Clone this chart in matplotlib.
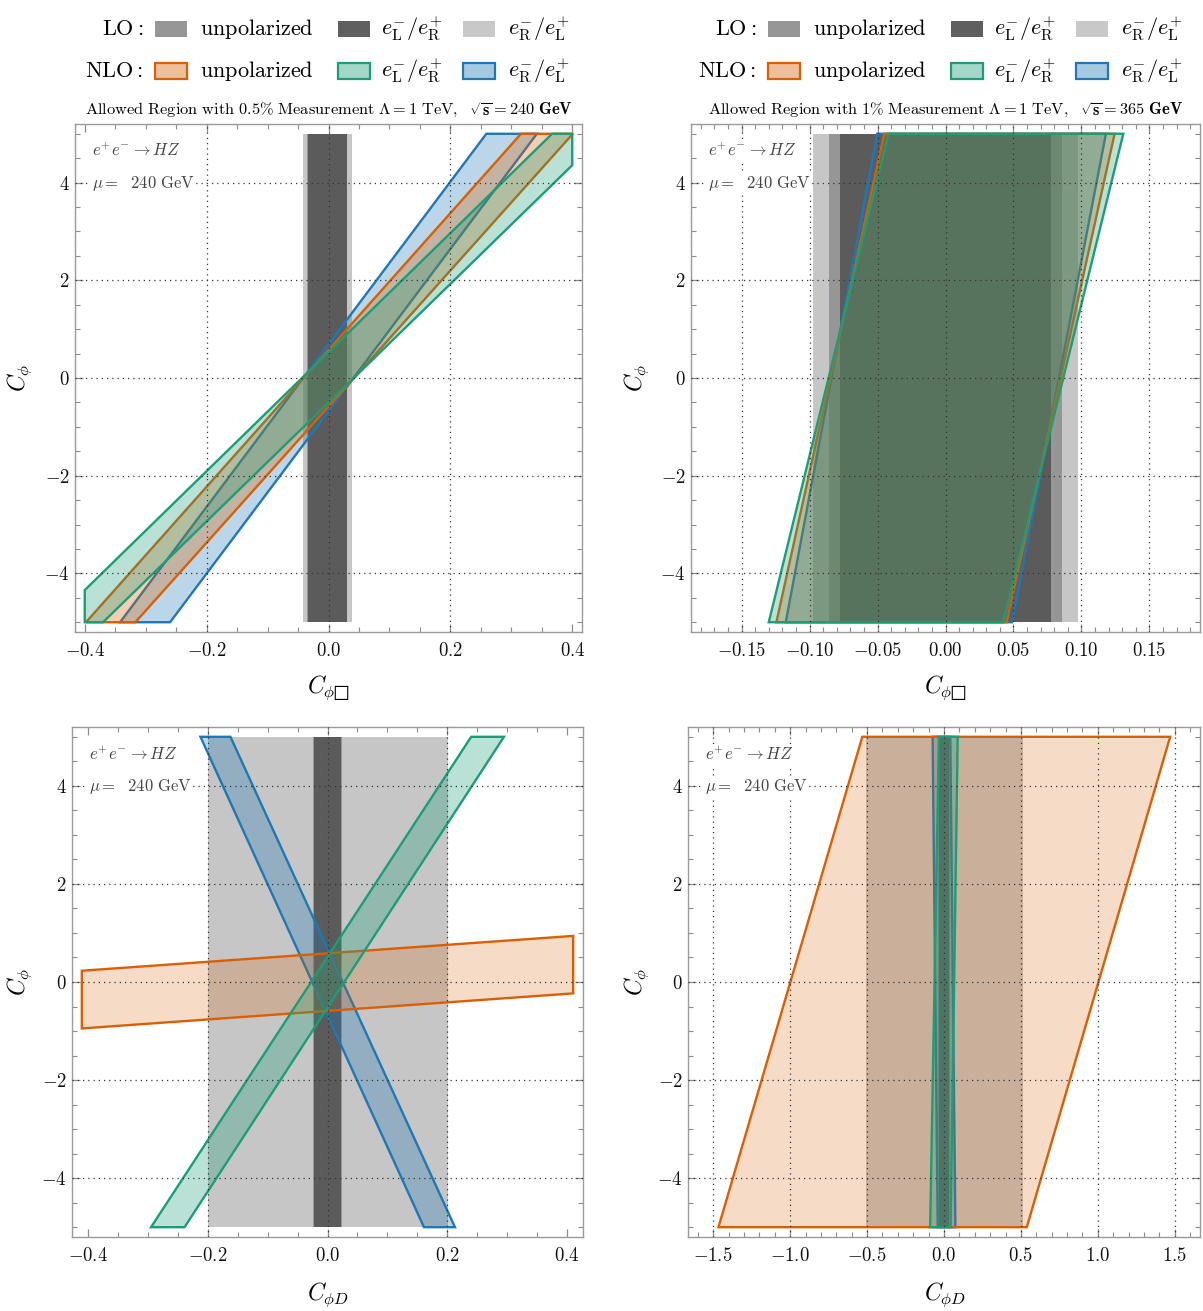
import numpy as np
import matplotlib
matplotlib.use('Agg')
import matplotlib.pyplot as plt
from matplotlib.patches import Polygon, Rectangle
from matplotlib.ticker import MultipleLocator, FuncFormatter
from matplotlib.colors import to_rgba

plt.rcParams['mathtext.fontset'] = 'cm'
plt.rcParams['font.family'] = ['DejaVu Serif']

# ---------------- data ----------------
Y_RANGE = [-5.0, 5.0]

# LO one-parameter allowed intervals (x ranges)
p1_lo_unpol = [-0.035, 0.031]
p1_lo_LR = [-0.033, 0.030]
p1_lo_RL = [-0.042, 0.039]
# NLO bands: [x at y=-5, x at y=+5] for left and right boundary
p1_nlo_unpol_left = [-0.398, 0.316]
p1_nlo_unpol_right = [-0.317, 0.401]
p1_nlo_LR_left = [-0.454, 0.367]
p1_nlo_LR_right = [-0.370, 0.453]
p1_nlo_RL_left = [-0.342, 0.259]
p1_nlo_RL_right = [-0.260, 0.342]

p2_lo_unpol = [-0.086, 0.086]
p2_lo_LR = [-0.0775, 0.0775]
p2_lo_RL = [-0.0975, 0.0975]
p2_nlo_unpol_left = [-0.1244, -0.045]
p2_nlo_unpol_right = [0.045, 0.1244]
p2_nlo_LR_left = [-0.130, -0.042]
p2_nlo_LR_right = [0.0425, 0.1308]
p2_nlo_RL_left = [-0.1175, -0.0502]
p2_nlo_RL_right = [0.0489, 0.118]

p3_lo_unpol = [-0.024, 0.024]
p3_lo_LR = [-0.022, 0.0225]
p3_lo_RL = [-0.200, 0.201]
# unpolarized NLO band in panel 3 is nearly horizontal: [y at x=-0.41, y at x=+0.41]
p3_nlo_unpol_x = [-0.41, 0.41]
p3_nlo_unpol_lower = [-0.947, -0.232]
p3_nlo_unpol_upper = [0.230, 0.940]
p3_nlo_LR_left = [-0.2945, 0.2398]
p3_nlo_LR_right = [-0.2386, 0.2945]
p3_nlo_RL_left = [0.161, -0.212]
p3_nlo_RL_right = [0.2127, -0.162]

p4_lo_unpol = [-0.040, 0.040]
p4_lo_LR = [-0.035, 0.035]
p4_lo_RL = [-0.508, 0.511]
p4_nlo_unpol_left = [-1.466, -0.531]
p4_nlo_unpol_right = [0.538, 1.470]
p4_nlo_LR_left = [-0.090, -0.033]
p4_nlo_LR_right = [0.043, 0.089]
p4_nlo_RL_left = [-0.041, -0.074]
p4_nlo_RL_right = [0.074, 0.041]

# plot ranges
p1_xrange = [-0.4, 0.4]
p2_xrange = [-0.18, 0.18]
p3_xrange = [-0.41, 0.41]
p4_xrange = [-1.6, 1.6]

x_major = [0.2, 0.05, 0.2, 0.5]
x_minor = [0.05, 0.01, 0.05, 0.1]
x_fmt = ['%.1f', '%.2f', '%.1f', '%.1f']
x_grid = [[-0.2, 0.0, 0.2],
          [-0.15, -0.10, -0.05, 0.0, 0.05, 0.10, 0.15],
          [-0.2, 0.0, 0.2],
          [-1.5, -1.0, -0.5, 0.0, 0.5, 1.0, 1.5]]
y_grid = [-4, -2, 0, 2, 4]

# ---------------- styles ----------------
C_ORANGE = '#d95f02'
C_GREEN = '#1b9e77'
C_BLUE = '#1f78b4'
LO_UNPOL = '#8a8a8a'
LO_LR = '#4d4d4d'
LO_RL = '#b8b8b8'
LEG_LO = ['#969696', '#5f5f5f', '#c8c8c8']
FILL_A = 0.3
ORANGE_A = [0.3, 0.3, 0.22, 0.22]
W, H = 1203, 1311


def clip_x(pts, xmin, xmax):
    def clip(pts, inside, inter):
        out = []
        n = len(pts)
        for i in range(n):
            cur, prev = pts[i], pts[i - 1]
            if inside(cur):
                if not inside(prev):
                    out.append(inter(prev, cur))
                out.append(cur)
            elif inside(prev):
                out.append(inter(prev, cur))
        return out

    def ix(p, q, x):
        t = (x - p[0]) / (q[0] - p[0])
        return (x, p[1] + t * (q[1] - p[1]))
    pts = clip(pts, lambda p: p[0] >= xmin, lambda p, q: ix(p, q, xmin))
    pts = clip(pts, lambda p: p[0] <= xmax, lambda p, q: ix(p, q, xmax))
    return pts


def band_vertical(left, right, xr):
    y0, y1 = Y_RANGE
    pts = [(left[0], y0), (right[0], y0), (right[1], y1), (left[1], y1)]
    return clip_x(pts, xr[0], xr[1])


def band_horizontal(xs, lower, upper):
    return [(xs[0], lower[0]), (xs[1], lower[1]), (xs[1], upper[1]), (xs[0], upper[0])]


def add_nlo(ax, pts, col, z, a=FILL_A):
    ax.add_patch(Polygon(pts, closed=True, facecolor=to_rgba(col, a),
                         edgecolor=col, linewidth=1.7, joinstyle='miter', zorder=z))


def add_lo(ax, rng, col):
    ax.add_patch(Rectangle((rng[0], Y_RANGE[0]), rng[1] - rng[0], Y_RANGE[1] - Y_RANGE[0],
                           facecolor=col, alpha=0.8, edgecolor='none', zorder=1))


fig = plt.figure(figsize=(W / 100, H / 100), dpi=100)
ax1 = fig.add_axes([75 / W, 1 - 632 / H, 507 / W, 508 / H])
ax2 = fig.add_axes([691 / W, 1 - 632 / H, 509 / W, 508 / H])
ax3 = fig.add_axes([72 / W, 1 - 1237 / H, 511 / W, 510 / H])
ax4 = fig.add_axes([688 / W, 1 - 1237 / H, 512 / W, 510 / H])
axes = [ax1, ax2, ax3, ax4]

panels = [
    dict(lo=[p1_lo_RL, p1_lo_unpol, p1_lo_LR], xr=p1_xrange,
         blue=band_vertical(p1_nlo_RL_left, p1_nlo_RL_right, p1_xrange),
         orange=band_vertical(p1_nlo_unpol_left, p1_nlo_unpol_right, p1_xrange),
         green=band_vertical(p1_nlo_LR_left, p1_nlo_LR_right, p1_xrange)),
    dict(lo=[p2_lo_RL, p2_lo_unpol, p2_lo_LR], xr=p2_xrange,
         blue=band_vertical(p2_nlo_RL_left, p2_nlo_RL_right, p2_xrange),
         orange=band_vertical(p2_nlo_unpol_left, p2_nlo_unpol_right, p2_xrange),
         green=band_vertical(p2_nlo_LR_left, p2_nlo_LR_right, p2_xrange)),
    dict(lo=[p3_lo_RL, p3_lo_unpol, p3_lo_LR], xr=p3_xrange,
         blue=band_vertical(p3_nlo_RL_left, p3_nlo_RL_right, p3_xrange),
         orange=band_horizontal(p3_nlo_unpol_x, p3_nlo_unpol_lower, p3_nlo_unpol_upper),
         green=band_vertical(p3_nlo_LR_left, p3_nlo_LR_right, p3_xrange)),
    dict(lo=[p4_lo_RL, p4_lo_unpol, p4_lo_LR], xr=p4_xrange,
         blue=band_vertical(p4_nlo_RL_left, p4_nlo_RL_right, p4_xrange),
         orange=band_vertical(p4_nlo_unpol_left, p4_nlo_unpol_right, p4_xrange),
         green=band_vertical(p4_nlo_LR_left, p4_nlo_LR_right, p4_xrange)),
]


def make_fmt(f):
    def _f(v, pos):
        s = f % v
        if s.startswith('-') and float(s) == 0:
            s = s[1:]
        return r'$\mathbf{%s}$' % s
    return FuncFormatter(_f)


for i, (ax, pdat) in enumerate(zip(axes, panels)):
    lo_cols = [LO_RL, LO_UNPOL, LO_LR]
    for rng, c in zip(pdat['lo'], lo_cols):
        add_lo(ax, rng, c)
    add_nlo(ax, pdat['blue'], C_BLUE, 2)
    add_nlo(ax, pdat['orange'], C_ORANGE, 2.1, ORANGE_A[i])
    add_nlo(ax, pdat['green'], C_GREEN, 2.2)

    xr = pdat['xr']
    pad = 0.02 * (xr[1] - xr[0])
    ax.set_xlim(xr[0] - pad, xr[1] + pad)
    ax.set_ylim(-5.2, 5.2)
    for gx in x_grid[i]:
        ax.axvline(gx, color='#333333', lw=0.9, ls=(0, (1, 3.2)), zorder=3)
    for gy in y_grid:
        ax.axhline(gy, color='#333333', lw=0.9, ls=(0, (1, 3.2)), zorder=3)

    ax.xaxis.set_major_locator(MultipleLocator(x_major[i]))
    ax.xaxis.set_minor_locator(MultipleLocator(x_minor[i]))
    ax.yaxis.set_major_locator(MultipleLocator(2))
    ax.yaxis.set_minor_locator(MultipleLocator(0.5))
    ax.xaxis.set_major_formatter(make_fmt(x_fmt[i]))
    ax.yaxis.set_major_formatter(make_fmt('%d'))
    ax.tick_params(which='both', direction='in', top=True, right=True,
                   color='#8c8c8c', labelsize=13.5, labelcolor='#111111')
    ax.tick_params(which='major', length=6, width=0.9)
    ax.tick_params(axis='x', which='major', pad=7)
    ax.tick_params(axis='y', which='major', pad=4)
    ax.tick_params(which='minor', length=3.5, width=0.8)
    for sp in ax.spines.values():
        sp.set_color('#9a9a9a')
        sp.set_linewidth(1.0)

    ax.text(0.033, 0.946, r'$e^{+}e^{-}\rightarrow HZ$', transform=ax.transAxes,
            fontsize=12, color='#444444', va='center', ha='left', zorder=6,
            bbox=dict(facecolor='white', edgecolor='none', pad=1.0))
    ax.text(0.033, 0.883, r'$\mu =\ \ \mathrm{240\ GeV}$', transform=ax.transAxes,
            fontsize=12, color='#444444', va='center', ha='left', zorder=6,
            bbox=dict(facecolor='white', edgecolor='none', pad=1.0))

# axis labels
for cx, cy in [(328, 688), (945, 688)]:
    fig.text(cx / W, 1 - cy / H, r'$C_{\phi□}$', fontsize=17, ha='center', va='center')
for cx, cy in [(328, 1295), (945, 1295)]:
    fig.text(cx / W, 1 - cy / H, r'$C_{\phi D}$', fontsize=17, ha='center', va='center')
for cx, cy in [(20, 378), (637, 378), (20, 982), (637, 982)]:
    fig.text(cx / W, 1 - cy / H, r'$C_{\phi}$', fontsize=17, ha='center', va='center',
             rotation=90)

# titles
titles = [r'$\mathrm{Allowed\ Region\ with\ 0.5\%\ Measurement}\ \Lambda = 1\ \mathrm{TeV},\ \ \sqrt{\mathbf{s}} = \mathbf{240\ GeV}$',
          r'$\mathrm{Allowed\ Region\ with\ 1\%\ Measurement}\ \Lambda = 1\ \mathrm{TeV},\ \ \sqrt{\mathbf{s}} = \mathbf{365\ GeV}$']
for cx, t in zip([329, 946], titles):
    fig.text(cx / W, 1 - 110 / H, t, fontsize=11.8, ha='center', va='center')

# legends
lab_LR = r'$e_{\mathrm{L}}^{-}/e_{\mathrm{R}}^{+}$'
lab_RL = r'$e_{\mathrm{R}}^{-}/e_{\mathrm{L}}^{+}$'
lab_un = r'$\mathrm{unpolarized}$'
for off in [0, 613]:
    for row, (yc, head) in enumerate([(29, r'$\mathrm{LO}:$'), (71, r'$\mathrm{NLO}:$')]):
        fy = 1 - yc / H
        fig.text((143 + off) / W, fy, head, fontsize=16, ha='right', va='center')
        for k, (sx, tx, lab) in enumerate([(155, 200, lab_un), (338, 381, lab_LR), (463, 508, lab_RL)]):
            x0 = (sx + off) / W
            wdt = 32 / W
            hgt = 16 / H
            if row == 0:
                r = Rectangle((x0, fy - hgt / 2), wdt, hgt, transform=fig.transFigure,
                              facecolor=LEG_LO[k], edgecolor='none')
            else:
                col = [C_ORANGE, C_GREEN, C_BLUE][k]
                r = Rectangle((x0, fy - hgt / 2), wdt, hgt, transform=fig.transFigure,
                              facecolor=to_rgba(col, 0.4), edgecolor=col, linewidth=1.6)
            fig.patches.append(r)
            fig.text((tx + off) / W, fy, lab, fontsize=16, ha='left', va='center')

fig.savefig('out.png', dpi=100)
